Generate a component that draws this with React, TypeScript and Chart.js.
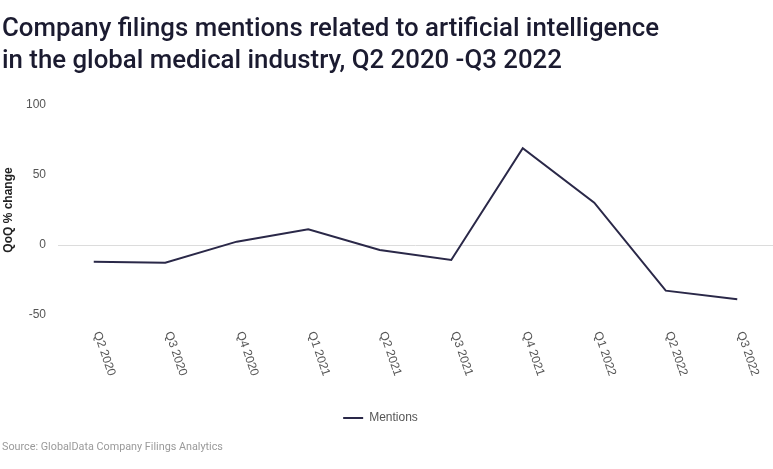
import { useEffect, useRef } from 'react';
import { Chart, registerables } from 'chart.js';

Chart.register(...registerables);

const categories = ['Q2 2020', 'Q3 2020', 'Q4 2020', 'Q1 2021', 'Q2 2021', 'Q3 2021', 'Q4 2021', 'Q1 2022', 'Q2 2022', 'Q3 2022'];
const mentions = [-11.9, -12.6, 2.4, 11.2, -3.6, -10.7, 69.1, 30.2, -32.6, -38.8];
const yTicks = [-50, 0, 50, 100];

const TICK_FONT = '"Liberation Sans", Arial, sans-serif';
const LINE_COLOR = '#2a2848';

const rotatedXLabels = {
  id: 'rotatedXLabels',
  afterLayout(chart: any) {
    if (chart.legend) {
      chart.legend.left -= 6;
      chart.legend.right -= 6;
    }
  },
  afterDraw(chart: any) {
    const xs = chart.scales.x;
    const ctx = chart.ctx;
    ctx.save();
    ctx.font = `12px ${TICK_FONT}`;
    ctx.fillStyle = '#555555';
    ctx.textAlign = 'left';
    ctx.textBaseline = 'middle';
    xs.ticks.forEach((t: any, i: number) => {
      const px = xs.getPixelForTick(i);
      ctx.save();
      ctx.translate(px + 3, chart.chartArea.bottom + 17);
      ctx.rotate((71 * Math.PI) / 180);
      ctx.fillText(String(xs.getLabelForValue(t.value)), 0, 0);
      ctx.restore();
    });
    ctx.restore();
  },
};

function LineChart() {
  const ref = useRef<HTMLCanvasElement | null>(null);
  useEffect(() => {
    if (!ref.current) return;
    const chart = new Chart(ref.current, {
      type: 'line',
      data: {
        labels: categories,
        datasets: [
          {
            label: 'Mentions',
            data: mentions,
            borderColor: LINE_COLOR,
            backgroundColor: LINE_COLOR,
            borderWidth: 2,
            pointRadius: 0,
            pointHoverRadius: 0,
            tension: 0,
          },
        ],
      },
      options: {
        animation: false,
        responsive: false,
        maintainAspectRatio: false,
        layout: { padding: { top: 105, right: 0, bottom: 35, left: 0 } },
        plugins: {
          tooltip: { enabled: false },
          legend: {
            position: 'bottom',
            labels: {
              usePointStyle: true,
              pointStyle: 'line',
              pointStyleWidth: 20,
              color: '#555555',
              font: { family: TICK_FONT, size: 12 },
              padding: 10,
            },
          },
        },
        scales: {
          x: {
            offset: true,
            grid: { display: false },
            border: { display: false },
            ticks: { display: false },
            afterFit: (s: any) => {
              s.height = 87;
            },
          },
          y: {
            min: -50,
            max: 100,
            afterBuildTicks: (s: any) => {
              s.ticks = yTicks.map((v) => ({ value: v }));
            },
            afterFit: (s: any) => {
              s.width = 58;
            },
            grid: {
              drawTicks: false,
              color: (c: any) => (c.tick && c.tick.value === 0 ? '#dcdcdc' : 'rgba(0,0,0,0)'),
            },
            border: { display: false },
            ticks: {
              color: '#555555',
              font: { family: TICK_FONT, size: 12 },
              padding: 12,
            },
            title: {
              display: true,
              text: 'QoQ % change',
              color: '#222222',
              font: { family: TICK_FONT, size: 12, weight: 'bold' },
              padding: { top: 1, bottom: 0 },
            },
          },
        },
      },
      plugins: [rotatedXLabels],
    });
    return () => chart.destroy();
  }, []);
  return <canvas ref={ref} width={773} height={469} style={{ position: 'absolute', left: 0, top: 0, width: 773, height: 469 }} />;
}

export default function App() {
  return (
    <div style={{ position: 'absolute', left: 0, top: 0, width: 773, height: 469, background: '#ffffff', overflow: 'hidden' }}>
      <LineChart />
      <div
        style={{
          position: 'absolute',
          left: 2,
          top: 11,
          fontFamily: 'Roboto, "Noto Sans", sans-serif',
          fontWeight: 500,
          fontSize: 25.8,
          lineHeight: '32px',
          color: '#1b1b30',
          whiteSpace: 'nowrap',
        }}
      >
        Company filings mentions related to artificial intelligence
        <br />
        in the global medical industry, Q2 2020 -Q3 2022
      </div>
      <div
        style={{
          position: 'absolute',
          left: 2,
          top: 440,
          fontFamily: 'Roboto, "Noto Sans", sans-serif',
          fontSize: 10.8,
          lineHeight: '14px',
          color: '#9a9a9a',
          whiteSpace: 'nowrap',
        }}
      >
        Source: GlobalData Company Filings Analytics
      </div>
    </div>
  );
}
